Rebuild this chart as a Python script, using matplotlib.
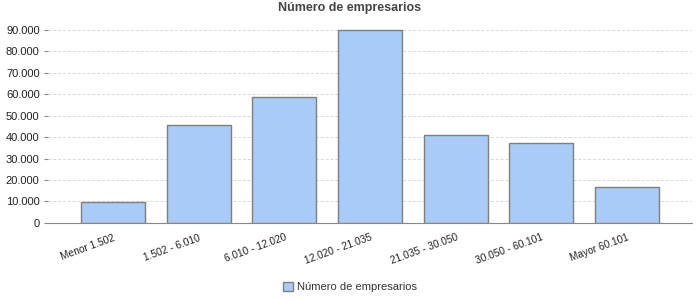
import matplotlib.pyplot as plt
import numpy as np
from matplotlib.ticker import FuncFormatter

plt.rcParams["font.family"] = ["Liberation Sans", "DejaVu Sans"]

categories = ["Menor 1.502", "1.502 - 6.010", "6.010 - 12.020", "12.020 - 21.035",
              "21.035 - 30.050", "30.050 - 60.101", "Mayor 60.101"]
empresarios = [9700, 45500, 58800, 90000, 40800, 37100, 16700]
series_name = "Número de empresarios"

fig = plt.figure(figsize=(7, 3), dpi=100)
ax = fig.add_axes([0.0686, 0.257, 0.92, 0.676])

x = np.arange(len(categories))
ax.bar(x, empresarios, width=0.75, color="#a9cbf5", edgecolor="#7f7f7f",
       linewidth=1.0, label=series_name, zorder=3)

ax.set_xlim(-0.76, len(categories) - 0.24)
ax.set_ylim(0, 94500)
ax.set_yticks(np.arange(0, 90001, 10000))
ax.yaxis.set_major_formatter(FuncFormatter(lambda v, p: f"{int(v):,}".replace(",", ".")))
ax.set_xticks(x)
ax.set_xticklabels(categories, rotation=20, ha="right", va="top", rotation_mode="anchor",
                   fontsize=7.3, color="#222222")
ax.tick_params(axis="y", labelsize=8, colors="#222222", length=3, color="#888888", pad=3)
ax.tick_params(axis="x", length=0, pad=7)

ax.grid(axis="y", color="#d8d8d8", linestyle=(0, (3, 2)), linewidth=0.7, zorder=0)
for s in ["top", "right", "left"]:
    ax.spines[s].set_visible(False)
ax.spines["bottom"].set_color("#888888")

fig.text(0.5, 1 - 8 / 300, series_name, ha="center", va="center",
         fontsize=9, fontweight="bold", color="#444444")

fig.legend(loc="center", bbox_to_anchor=(0.5, 1 - 287 / 300), frameon=False,
           fontsize=8, handlelength=0.9, handleheight=0.9, handletextpad=0.3,
           labelcolor="#333333")

fig.savefig("out.png", dpi=100)
